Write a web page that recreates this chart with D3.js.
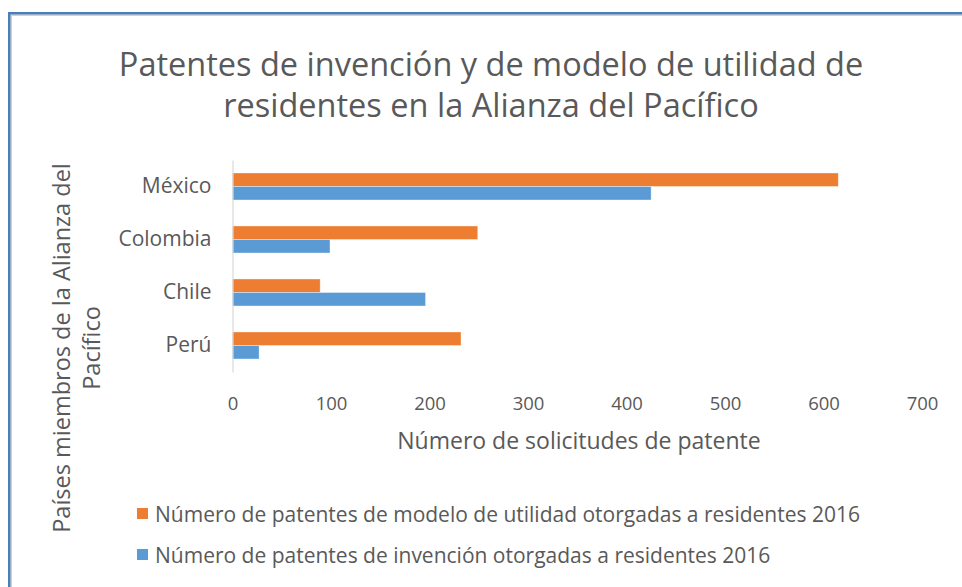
<!DOCTYPE html>
<html>
<head>
<meta charset="utf-8">
<script src="https://cdn.jsdelivr.net/npm/d3@7"></script>
<style>
  body { margin: 0; background: #fff; }
  svg { display: block; font-family: "Open Sans", sans-serif; }
</style>
</head>
<body>
<div id="chart"></div>
<script>
// Data
const countries = ["México", "Colombia", "Chile", "Perú"];
const utilidad = [615, 249, 89, 232];   // modelo de utilidad 2016
const invencion = [425, 99, 196, 27];   // invención 2016
const xTicks = [0, 100, 200, 300, 400, 500, 600, 700];
const seriesNames = [
  "Número de patentes de modelo de utilidad otorgadas a residentes 2016",
  "Número de patentes de invención otorgadas a residentes 2016"
];
const seriesColors = ["#ED7D31", "#5B9BD5"];

const width = 962, height = 587;
const marginLeft = 232.5, marginTop = 160, marginBottom = 215;
const textColor = "#595959";

const svg = d3.select("#chart").append("svg")
  .attr("width", width)
  .attr("height", height)
  .attr("viewBox", [0, 0, width, height]);

// chart area frame (runs off the right and bottom edges)
svg.append("rect")
  .attr("x", 11).attr("y", 15)
  .attr("width", 1000).attr("height", 600)
  .attr("fill", "none")
  .attr("stroke", "#d0d0d0")
  .attr("stroke-width", 2);
svg.append("rect")
  .attr("x", 9.2).attr("y", 13.2)
  .attr("width", 1000).attr("height", 600)
  .attr("fill", "none")
  .attr("stroke", "#4a7ebb")
  .attr("stroke-width", 2.4);

// title
const title = svg.append("text")
  .attr("text-anchor", "middle")
  .attr("fill", textColor)
  .attr("font-size", 32.5);
title.append("tspan").attr("x", 491).attr("y", 76).text("Patentes de invención y de modelo de utilidad de");
title.append("tspan").attr("x", 491).attr("y", 117).text("residentes en la Alianza del Pacífico");

const x = d3.scaleLinear()
  .domain([0, 700])
  .range([marginLeft, 922]);

const y = d3.scaleBand()
  .domain(countries)
  .range([marginTop, height - marginBottom])
  .paddingInner(0.49)
  .paddingOuter(0.245);

const ySub = d3.scaleBand()
  .domain([0, 1])
  .range([0, y.bandwidth()]);

// x axis labels
svg.append("g")
  .attr("transform", `translate(0,${y.range()[1]})`)
  .call(d3.axisBottom(x).tickValues(xTicks).tickSize(0).tickPadding(25))
  .call(g => g.attr("font-family", null).attr("font-size", 18.5))
  .call(g => g.select(".domain").remove())
  .call(g => g.selectAll("text").attr("fill", textColor));

// bars
const rows = countries.map((c, i) => ({ country: c, values: [utilidad[i], invencion[i]] }));

svg.append("g")
  .selectAll("g")
  .data(rows)
  .join("g")
    .attr("transform", d => `translate(0,${y(d.country)})`)
  .selectAll("rect")
  .data(d => d.values.map((v, k) => ({ v, k })))
  .join("rect")
    .attr("x", x(0))
    .attr("y", d => ySub(d.k))
    .attr("width", d => x(d.v) - x(0))
    .attr("height", ySub.bandwidth())
    .attr("fill", d => seriesColors[d.k])
    .attr("stroke", "#ffffff")
    .attr("stroke-opacity", 0.5)
    .attr("stroke-width", 0.75);

// category axis
svg.append("g")
  .attr("transform", `translate(${marginLeft},0)`)
  .call(d3.axisLeft(y).tickSize(0).tickPadding(21))
  .call(g => g.attr("font-family", null).attr("font-size", 21))
  .call(g => g.select(".domain").attr("stroke", "#d9d9d9").attr("stroke-width", 1.2))
  .call(g => g.selectAll("text").attr("fill", textColor));

// axis titles
svg.append("text")
  .attr("x", 579).attr("y", 449)
  .attr("text-anchor", "middle")
  .attr("fill", textColor)
  .attr("font-size", 23)
  .text("Número de solicitudes de patente");

const yTitle = svg.append("text")
  .attr("transform", "translate(0,348) rotate(-90)")
  .attr("text-anchor", "middle")
  .attr("fill", textColor)
  .attr("font-size", 23.5);
yTitle.append("tspan").attr("x", 0).attr("y", 70).text("Países miembros de la Alianza del");
yTitle.append("tspan").attr("x", 0).attr("y", 100).text("Pacífico");

// legend
const legend = svg.append("g")
  .selectAll("g")
  .data(seriesNames)
  .join("g")
    .attr("transform", (d, i) => `translate(137,${508 + i * 41})`);
legend.append("rect")
  .attr("width", 11).attr("height", 11)
  .attr("fill", (d, i) => seriesColors[i]);
legend.append("text")
  .attr("x", 18).attr("y", 14)
  .attr("fill", textColor)
  .attr("font-size", 21)
  .text(d => d);
</script>
</body>
</html>
